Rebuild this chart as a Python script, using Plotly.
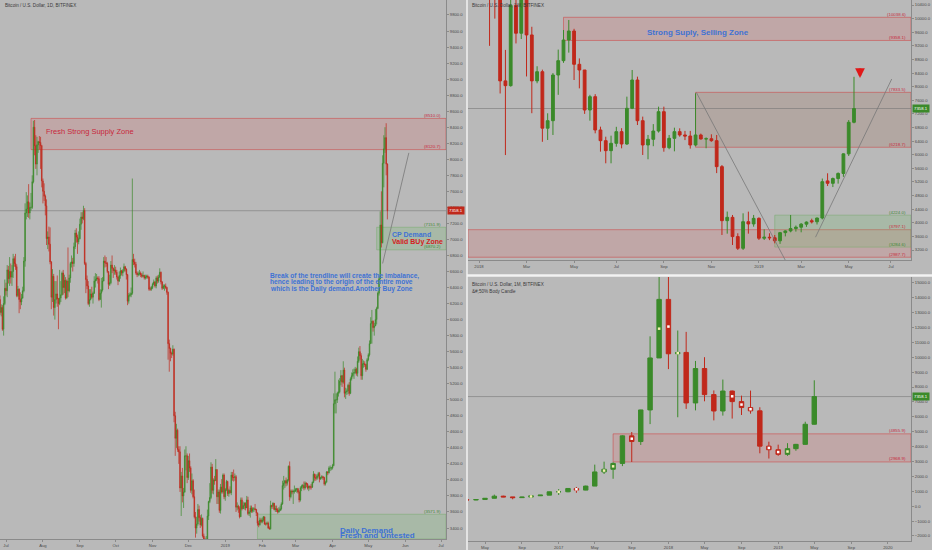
import plotly.graph_objects as go
import pandas as pd

W, H = 932, 550
BG = '#b9b9b9'
GREEN = '#3b8a2a'
RED = '#c0281b'
BLUE = '#3f72d4'
ZRED = '#c8283c'
ZGREEN = '#3f8a34'

def px(x):
    return x / W

def py(y):
    return 1 - y / H

# ---------------- DAILY (left panel) : (high, low, close), open = previous close ----------------
daily_start = '2018-06-26'
daily_open0 = 6250
d_2018_06 = [(6300,6060,6090),(6190,6040,6150),(6180,5860,5880),(6290,5800,6200),(6500,6180,6390)]
d_2018_07 = [(6460,6300,6360),(6680,6280,6620),(6670,6450,6510),(6780,6420,6600),(6700,6450,6530),
             (6680,6420,6600),(6820,6520,6760),(6790,6660,6700),(6820,6620,6660),(6690,6280,6300),
             (6420,6280,6380),(6390,6080,6250),(6340,6130,6220),(6320,6180,6270),(6410,6260,6360),
             (6780,6340,6730),(7450,6660,7330),(7590,7250,7380),(7550,7280,7470),(7690,7270,7330),
             (7460,7250,7400),(7580,7360,7400),(7800,7380,7720),(8480,7700,8400),(8490,8050,8170),
             (8300,7880,7940),(8280,7800,8180),(8230,8080,8220),(8290,8120,8210),(8280,7880,8170),
             (8180,7650,7730)]
d_2018_08 = [(7760,7450,7600),(7700,7480,7540),(7560,7300,7420),(7500,6930,7010),(7100,6880,7030),
             (7160,6850,6940),(7150,6690,6720),(6730,6130,6280),(6630,6220,6540),(6570,6050,6150),
             (6480,6000,6250),(6480,6200,6320),(6550,6160,6260),(6270,5880,6200),(6620,6180,6270),
             (6480,6220,6310),(6600,6300,6580),(6620,6310,6400),(6560,6330,6490),(6530,6250,6270),
             (6500,6260,6480),(6900,6280,6360),(6560,6340,6520),(6720,6460,6700),(6800,6650,6720),
             (6770,6600,6700),(6960,6660,6910),(7120,6880,7080),(7140,6960,7030),(7060,6820,6970),
             (7100,6940,7010)]
d_2018_09 = [(7260,7000,7190),(7340,7120,7280),(7340,7200,7260),(7420,7240,7360),(7390,6680,6700),
             (6720,6330,6500),(6550,6380,6420),(6480,6180,6200),(6380,6160,6250),(6380,6240,6320),
             (6410,6260,6280),(6350,6200,6330),(6540,6320,6480),(6580,6400,6500),(6570,6480,6520),
             (6540,6450,6510),(6540,6230,6250),(6380,6250,6330),(6520,6150,6370),(6530,6350,6480),
             (6780,6480,6730),(6800,6650,6710),(6780,6660,6700),(6720,6580,6600),(6600,6380,6440),
             (6560,6420,6460),(6730,6440,6680),(6800,6580,6640),(6650,6520,6610),(6680,6560,6620)]
d_2018_10 = [(6660,6560,6590),(6620,6500,6530),(6540,6430,6480),(6600,6470,6550),(6650,6510,6610),
             (6620,6550,6580),(6630,6540,6610),(6700,6590,6660),(6670,6600,6630),(6640,6500,6560),
             (6570,6180,6230),(6330,6200,6300),(6340,6280,6310),(6400,6280,6330),(7760,6310,6750),
             (6820,6680,6720),(6760,6650,6690),(6720,6560,6580),(6600,6530,6560),(6600,6540,6570),
             (6620,6550,6580),(6600,6530,6560),(6580,6520,6540),(6600,6530,6550),(6560,6500,6520),
             (6560,6500,6530),(6560,6510,6540),(6560,6510,6530),(6540,6360,6380),(6410,6360,6380),
             (6420,6360,6400)]
d_2018_11 = [(6460,6380,6440),(6500,6430,6470),(6480,6400,6420),(6540,6390,6520),(6550,6450,6480),
             (6560,6460,6530),(6640,6520,6590),(6600,6440,6470),(6480,6370,6390),(6440,6380,6420),
             (6440,6360,6420),(6450,6380,6400),(6410,6310,6340),(6350,5500,5700),(5750,5350,5640),
             (5650,5480,5580),(5600,5520,5570),(5680,5550,5630),(5640,4720,4800),(4850,4300,4520),
             (4700,4400,4620),(4640,4350,4380),(4420,4200,4350),(4420,3850,3900),(4100,3550,4050),
             (4150,3720,3800),(3900,3650,3850),(4380,3840,4300),(4420,4120,4300),(4330,3960,4030)]
d_2018_12 = [(4300,4000,4240),(4330,4100,4150),(4170,3840,3870),(4080,3820,3990),(4010,3770,3790),
             (3880,3520,3540),(3600,3280,3400),(3540,3330,3450),(3700,3430,3630),(3680,3480,3530),
             (3560,3400,3440),(3570,3420,3520),(3530,3280,3300),(3330,3200,3250),(3280,3200,3230),
             (3300,3210,3260),(3630,3250,3550),(3740,3500,3730),(3960,3710,3780),(4220,3760,4160),
             (4200,3830,3870),(4020,3820,4000),(4050,3940,3990),(4260,3990,4130),(4130,3700,3790),
             (3880,3700,3850),(3880,3590,3620),(3950,3580,3910),(4010,3830,3850),(4080,3830,4060),
             (4080,3760,3790)]
d_2019_01 = [(3900,3740,3880),(4000,3860,3980),(3990,3800,3830),(3890,3790,3870),(3920,3830,3840),
             (4100,3810,4060),(4100,3990,4030),(4130,3980,4030),(4080,3990,4040),(4060,3600,3660),
             (3720,3620,3670),(3690,3590,3640),(3670,3520,3540),(3780,3540,3750),(3780,3620,3640),
             (3730,3640,3680),(3720,3630,3710),(3720,3620,3650),(3800,3650,3750),(3790,3560,3580),
             (3620,3550,3600),(3680,3530,3650),(3680,3590,3610),(3660,3590,3640),(3660,3600,3640),
             (3700,3620,3630),(3640,3550,3590),(3590,3430,3460),(3490,3410,3440),(3530,3430,3500),
             (3520,3460,3480)]
d_2019_02 = [(3530,3460,3500),(3550,3480,3540),(3540,3440,3450),(3470,3430,3450),(3480,3440,3460),
             (3480,3390,3400),(3420,3380,3390),(3740,3380,3680),(3690,3640,3670),(3720,3640,3710),
             (3710,3620,3630),(3680,3600,3640),(3680,3600,3630),(3650,3580,3600),(3660,3590,3620),
             (3680,3610,3640),(3720,3620,3700),(3990,3690,3930),(4050,3880,3960),(4000,3900,3990),
             (4030,3920,3960),(4010,3930,4000),(4180,3980,4170),(4230,3740,3790),(3880,3770,3860),
             (3880,3820,3850),(3880,3700,3860),(3930,3830,3860)]
d_2019_03 = [(3900,3850,3880),(3900,3840,3890),(3900,3830,3850),(3870,3720,3750),(3920,3730,3900),
             (3940,3860,3920),(3950,3890,3930),(3980,3870,3900),(3980,3880,3960),(3970,3910,3950),
             (3960,3880,3900),(3930,3860,3920),(3930,3880,3910),(3950,3880,3910),(3980,3900,3970),
             (4110,3960,4070),(4080,3990,4030),(4070,3990,4020),(4070,4000,4050),(4100,4030,4080),
             (4100,3970,4010),(4040,4000,4030),(4060,4010,4040),(4050,4000,4030),(4040,3930,3950),
             (3990,3930,3970),(4110,3970,4100),(4110,4060,4090),(4170,4080,4150),(4180,4110,4150),
             (4160,4120,4150)]
d_2019_04 = [(4200,4130,4180),(5080,4170,4950),(5350,4830,5000),(5080,4830,5000),(5100,4960,5080),
             (5250,5040,5100),(5270,5080,5230),(5370,5180,5300),(5310,5160,5220),(5480,5200,5370),
             (5400,5030,5080),(5150,5010,5100),(5140,5060,5110),(5200,5070,5180),(5220,5050,5080),
             (5280,5070,5260),(5340,5240,5300),(5380,5280,5330),(5390,5260,5340),(5410,5320,5380),
             (5400,5300,5330),(5540,5290,5480),(5650,5460,5600),(5670,5500,5550),(5580,5250,5300),
             (5510,5250,5450),(5490,5400,5450),(5480,5410,5440),(5450,5350,5380),(5520,5370,5500)]
d_2019_05 = [(5580,5480,5560),(5740,5540,5700),(6030,5700,5950),(6120,5700,5980),(5990,5850,5900),
             (5960,5800,5920),(6130,5920,6000),(6160,5940,6140),(6350,6130,6330),(6550,6300,6510),
             (7350,6500,7180),(7600,6900,6960),(8050,6950,7950),(8300,7650,8130),(8400,8080,8270),
             (8450,7800,7940),(7950,7250,7358.1)]

# ---------------- WEEKLY (top right) ----------------
weekly_start = '2017-12-18'
w_open  = [19100,13900,13800,16200,13600,11600,11200,8170,8030,10390,9570,11500,9520,8170,8440,6780,7000,8343,
           8764,9371,9636,8657,8490,7314,7706,6727,6413,6119,6336,6678,6315,7364,8196,7000,6286,6453,6697,7265,
           6207,6482,6678,6580,6550,6286,6580,6462,6470,6413,5650,4062,4160,3594,3250,4032,3966,4130,3546,3575,
           3560,3470,3710,3760,3830,3870,3960,4060,4030,4140,5230,5160,5300,5450,6025,6953]
w_high  = [19200,16500,17200,16300,14000,11900,11800,9080,11100,11800,11700,11700,9760,8600,8500,7217,8400,9090,
           9665,9960,9700,8830,8490,7760,7780,6824,6530,6560,6820,6780,7706,8490,8294,7120,6580,6900,7412,7412,
           6580,6794,6776,6700,6700,7805,6620,6510,6600,6580,5698,4330,4229,3691,4278,4327,4230,4160,3808,3691,
           3640,3730,3780,4229,3920,3990,4040,4120,4150,5300,5454,5330,5480,6040,7019,8290]
w_low   = [11900,12500,12800,12700,9200,10000,7800,5990,8000,9270,9400,8300,7220,8100,6380,6433,6580,7760,
           8700,9000,8196,7950,7200,7000,6629,6090,5748,5748,6236,6188,6290,7340,6873,5992,5866,6250,6650,6089,
           6160,6100,6530,6430,6180,6250,6450,6190,6380,5460,3641,3680,3347,3200,3200,3680,3885,3494,3494,3490,
           3396,3380,3600,3720,3740,3720,3880,3980,3950,4100,5080,5050,5150,5350,5963,6923]
w_close = [13900,13800,16200,13600,11600,11200,8170,8030,10390,9570,11500,9520,8170,8440,6780,7000,8343,8764,
           9371,9636,8657,8490,7314,7706,6727,6413,6119,6336,6678,6315,7364,8196,7000,6286,6453,6697,7265,6207,
           6482,6678,6580,6550,6286,6580,6462,6470,6413,5650,4062,4160,3594,3250,4032,3966,4130,3546,3575,3560,
           3470,3710,3760,3830,3870,3960,4020,4030,4140,5208,5160,5300,5450,6025,6953,7358.1]

# ---------------- MONTHLY (bottom right) ----------------
monthly_start = '2016-03-01'
m_open  = [437,416,448,531,673,624,575,609,701,742,966,968,1190,1080,1350,2300,2480,2870,4720,4340,6460,9950,
           13880,10230,10320,6930,9240,7490,6390,7730,7020,6620,6400,4030,3790,3480,3860,4150,5500]
m_high  = [439,470,550,778,704,626,628,722,751,975,1150,1210,1290,1380,2790,2990,2950,4760,4980,6470,11400,19890,
           17180,11790,11700,9750,10000,7770,8500,7760,7420,7760,6640,4330,4130,4230,4180,5670,8450]
m_low   = [393,404,436,523,607,465,568,603,683,740,752,940,900,1070,1350,2160,1840,2690,2969,4110,5510,10650,
           9200,5970,6530,6430,7040,5760,6080,5880,6120,6210,3550,3200,3380,3380,3720,4130,5480]
m_close = [416,448,531,673,624,575,609,701,742,966,968,1190,1080,1350,2300,2480,2870,4720,4340,6460,9950,13880,
           10230,10320,6930,9240,7490,6390,7730,7020,6620,6400,4030,3790,3480,3860,4150,5500,7358.1]
body50_months = ['2016-10','2017-01','2017-03','2017-06','2017-07','2017-09','2017-12','2018-01','2018-02',
                 '2018-08','2018-09','2018-10','2018-12','2019-01','2019-02']

last_price = 7358.1

# ---------------- zones ----------------
left_supply = (8120.7, 8510.0)
left_cp_demand = (6870.2, 7151.9)
left_daily_demand_top = 3571.9
tr_supply = (9358.1, 10038.6)
tr_mid_zone = (6218.7, 7833.5)
tr_red_zone = (2987.7, 3797.1)
tr_green_zone = (3284.6, 4224.0)
br_zone = (2968.9, 4855.9)

left_xticks = ['2018-07-01','2018-08-01','2018-09-01','2018-10-01','2018-11-01','2018-12-01','2019-01-01',
               '2019-02-01','2019-03-01','2019-04-01','2019-05-01','2019-06-01','2019-07-01']
left_xtext = ['Jul','Aug','Sep','Oct','Nov','Dec','2019','Feb','Mar','Apr','May','Jun','Jul']
tr_xticks = ['2018-01-01','2018-03-05','2018-05-07','2018-07-02','2018-09-03','2018-11-05','2019-01-07',
             '2019-03-04','2019-05-06','2019-07-01']
tr_xtext = ['2018','Mar','May','Jul','Sep','Nov','2019','Mar','May','Jul']
br_xticks = ['2016-05-01','2016-09-01','2017-01-01','2017-05-01','2017-09-01','2018-01-01','2018-05-01',
             '2018-09-01','2019-01-01','2019-05-01','2019-09-01','2020-01-01']
br_xtext = ['May','Sep','2017','May','Sep','2018','May','Sep','2019','May','Sep','2020']

# ---------------- build series ----------------
rows = [r for m in [d_2018_06,d_2018_07,d_2018_08,d_2018_09,d_2018_10,d_2018_11,d_2018_12,
                    d_2019_01,d_2019_02,d_2019_03,d_2019_04,d_2019_05] for r in m]
d_close = [r[2] for r in rows]
d_open = [daily_open0] + d_close[:-1]
d_high = [max(r[0], o, r[2]) for r, o in zip(rows, d_open)]
d_low = [min(r[1], o, r[2]) for r, o in zip(rows, d_open)]
d_dates = pd.date_range(daily_start, periods=len(rows), freq='D')

w_dates = pd.date_range(weekly_start, periods=len(w_close), freq='7D')
m_dates = pd.date_range(monthly_start, periods=len(m_close), freq='MS')

def xrange(anchor, anchor_px, ppd, lpx, rpx):
    a = pd.Timestamp(anchor)
    return [a + pd.Timedelta(days=(lpx - anchor_px) / ppd), a + pd.Timedelta(days=(rpx - anchor_px) / ppd)]

L_XR = xrange('2018-07-01', 6, 1.1918, 0, 446)
TR_XR = xrange('2018-01-01', 479, 0.7545, 468, 911)
BR_XR = xrange('2016-05-01', 485, 0.3007, 468, 911)
L_YR = [3263, 9987]
TR_YR = [2906, 10547]
BR_YR = [-2336, 15383]

fig = go.Figure()

def candle(x, o, h, l, c, xa, ya, lw=1):
    fig.add_trace(go.Candlestick(
        x=x, open=o, high=h, low=l, close=c, xaxis=xa, yaxis=ya,
        increasing=dict(line=dict(color=GREEN, width=lw), fillcolor=GREEN),
        decreasing=dict(line=dict(color=RED, width=lw), fillcolor=RED),
        whiskerwidth=0, showlegend=False, hoverinfo='skip'))

candle(d_dates, d_open, d_high, d_low, d_close, 'x', 'y', lw=0.7)
candle(w_dates, w_open, w_high, w_low, w_close, 'x2', 'y2')
candle(m_dates, m_open, m_high, m_low, m_close, 'x3', 'y3')

# 50% body markers on monthly chart
mk_x, mk_y, mk_c = [], [], []
for d, o, c in zip(m_dates, m_open, m_close):
    if d.strftime('%Y-%m') in body50_months:
        mk_x.append(d); mk_y.append((o + c) / 2)
        mk_c.append('#f4f0b0' if c >= o else '#ffffff')
fig.add_trace(go.Scatter(x=mk_x, y=mk_y, mode='markers', xaxis='x3', yaxis='y3',
                         marker=dict(size=2.5, color=mk_c, symbol='square'),
                         showlegend=False, hoverinfo='skip'))

shapes = []

def zone(xref, yref, x0, x1, yr, fill, line):
    shapes.append(dict(type='rect', xref=xref, yref=yref, x0=x0, x1=x1, y0=yr[0], y1=yr[1],
                       fillcolor=fill, line=dict(color=line, width=1), layer='below'))

PINK = 'rgba(222,95,95,0.20)'
PINKL = 'rgba(205,70,70,0.55)'
GRN = 'rgba(110,185,105,0.22)'
GRNL = 'rgba(110,170,100,0.45)'
BRN = 'rgba(150,95,70,0.20)'

zone('x', 'y', '2018-07-22', L_XR[1], left_supply, PINK, PINKL)
zone('x', 'y', '2019-05-08', L_XR[1], left_cp_demand, GRN, GRNL)
zone('x', 'y', '2019-01-28', L_XR[1], (L_YR[0], left_daily_demand_top), GRN, GRNL)
zone('x2', 'y2', '2018-04-23', TR_XR[1], tr_supply, PINK, PINKL)
zone('x2', 'y2', '2018-10-15', TR_XR[1], tr_mid_zone, BRN, PINKL)
zone('x2', 'y2', TR_XR[0], TR_XR[1], tr_red_zone, PINK, PINKL)
zone('x2', 'y2', '2019-01-28', TR_XR[1], tr_green_zone, GRN, GRNL)
zone('x3', 'y3', '2017-07-01', BR_XR[1], br_zone, PINK, PINKL)

PL = 'rgba(115,115,115,0.55)'
for xr, xa, ya in [(L_XR, 'x', 'y'), (TR_XR, 'x2', 'y2'), (BR_XR, 'x3', 'y3')]:
    shapes.append(dict(type='line', xref=xa, yref=ya, x0=xr[0], x1=xr[1], y0=last_price, y1=last_price,
                       line=dict(color=PL, width=1), layer='below'))

TL = 'rgba(120,120,120,0.8)'
shapes.append(dict(type='line', xref='x', yref='y', x0='2019-05-13', y0=6700, x1='2019-06-04', y1=8080,
                   line=dict(color=TL, width=1)))
shapes.append(dict(type='line', xref='x2', yref='y2', x0='2018-10-16', y0=7833.5, x1='2019-02-18', y1=2606,
                   line=dict(color=TL, width=1)))
shapes.append(dict(type='line', xref='x2', yref='y2', x0='2019-03-23', y0=3576, x1='2019-07-02', y1=8224,
                   line=dict(color=TL, width=1)))

# panel separators
shapes.append(dict(type='line', xref='paper', yref='paper', x0=px(467), x1=px(467), y0=0, y1=1,
                   line=dict(color='#f2f2f2', width=1.5)))
shapes.append(dict(type='line', xref='paper', yref='paper', x0=px(467), x1=1, y0=py(275.5), y1=py(275.5),
                   line=dict(color='#f2f2f2', width=2.5)))

ann = []
TF = 'Liberation Sans'

def txt(x, y, s, color, size, xanchor='left', bold=False, xref='paper', yref='paper'):
    ann.append(dict(x=x, y=y, xref=xref, yref=yref, text=('<b>%s</b>' % s) if bold else s,
                    showarrow=False, xanchor=xanchor, yanchor='middle',
                    font=dict(family=TF, size=size, color=color)))

txt(px(3), py(6), 'Bitcoin / U.S. Dollar, 1D, BITFINEX', '#3a3a3a', 4.6)
txt(px(470), py(6), 'Bitcoin / U.S. Dollar, 1W, BITFINEX', '#3a3a3a', 4.6)
txt(px(470), py(284), 'Bitcoin / U.S. Dollar, 1M, BITFINEX', '#3a3a3a', 4.6)
txt(px(470), py(291), '&#;50% Body Candle', '#3a3a3a', 4.6)

txt(px(44), py(131), 'Fresh Strong Supply Zone', ZRED, 7.5)
txt(px(411), py(234), 'CP Demand', BLUE, 7, 'center', True)
txt(px(417), py(241.5), 'Valid BUy Zone', '#d42020', 7, 'center', True)
txt(px(344), py(275.8), 'Break of the trendline will create the imbalance,', BLUE, 6.6, 'center', True)
txt(px(341), py(282.3), 'hence leading to the origin of the entire move', BLUE, 6.6, 'center', True)
txt(px(341), py(288.8), 'which is the Daily demand.Another Buy Zone', BLUE, 6.6, 'center', True)
txt(px(338), py(530.5), 'Daily Demand', BLUE, 8, 'left', True)
txt(px(338), py(535.5), 'Fresh and Untested', BLUE, 8, 'left', True)
txt(px(698), py(32), 'Strong Suply, Selling Zone', BLUE, 8, 'center', True)

def zlabel(xpix, price, yref, color):
    ann.append(dict(x=px(xpix), y=price, xref='paper', yref=yref, text='(%.1f)' % price, showarrow=False,
                    xanchor='right', yanchor='bottom', yshift=-1.5,
                    font=dict(family=TF, size=4.4, color=color)))

zlabel(443, left_supply[1], 'y', ZRED)
zlabel(443, left_supply[0], 'y', ZRED)
zlabel(443, left_cp_demand[1], 'y', ZGREEN)
zlabel(443, left_cp_demand[0], 'y', ZGREEN)
zlabel(443, left_daily_demand_top, 'y', ZGREEN)
zlabel(908, tr_supply[1], 'y2', ZRED)
zlabel(908, tr_supply[0], 'y2', ZRED)
zlabel(908, tr_mid_zone[1], 'y2', ZRED)
zlabel(908, tr_mid_zone[0], 'y2', ZRED)
zlabel(908, tr_green_zone[1], 'y2', ZGREEN)
zlabel(908, tr_red_zone[1], 'y2', ZRED)
zlabel(908, tr_green_zone[0], 'y2', ZGREEN)
zlabel(908, tr_red_zone[0], 'y2', ZRED)
zlabel(908, br_zone[1], 'y3', ZRED)
zlabel(908, br_zone[0], 'y3', ZRED)

def pricebox(xpix, yref, color):
    ann.append(dict(x=px(xpix), y=last_price, xref='paper', yref=yref, text='%.1f' % last_price,
                    showarrow=False, xanchor='left', yanchor='middle', bgcolor=color, borderpad=1,
                    font=dict(family=TF, size=4.3, color='white')))

pricebox(447, 'y', RED)
pricebox(912, 'y2', GREEN)
pricebox(912, 'y3', GREEN)

# red arrow on weekly chart
ann.append(dict(x='2019-05-21', y=8253, xref='x2', yref='y2', text='', showarrow=True, ax=0, ay=-11,
                arrowhead=2, arrowsize=0.75, arrowwidth=2.6, arrowcolor='#e01818', standoff=0))

AX = dict(showgrid=False, zeroline=False, showline=True, linecolor='#8a8a8a', linewidth=1,
          ticks='outside', ticklen=2, tickcolor='#8a8a8a',
          tickfont=dict(family=TF, size=4.2, color='#4a4a4a'), fixedrange=True)

layout = dict(
    width=W, height=H, margin=dict(l=0, r=0, t=0, b=0, pad=0),
    paper_bgcolor=BG, plot_bgcolor=BG, showlegend=False, boxgap=0.25,
    shapes=shapes, annotations=ann,
    xaxis=dict(AX, domain=[0, px(446)], range=L_XR, anchor='y', type='date',
               tickvals=left_xticks, ticktext=left_xtext, rangeslider=dict(visible=False)),
    yaxis=dict(AX, domain=[py(539), 1], range=L_YR, anchor='x', side='right',
               tickvals=list(range(3400, 9801, 200)), tickformat='.1f'),
    xaxis2=dict(AX, domain=[px(468), px(911)], range=TR_XR, anchor='y2', type='date',
                tickvals=tr_xticks, ticktext=tr_xtext, rangeslider=dict(visible=False)),
    yaxis2=dict(AX, domain=[py(260), 1], range=TR_YR, anchor='x2', side='right',
                tickvals=list(range(3200, 10401, 400)), tickformat='.1f'),
    xaxis3=dict(AX, domain=[px(468), px(911)], range=BR_XR, anchor='y3', type='date',
                tickvals=br_xticks, ticktext=br_xtext, rangeslider=dict(visible=False)),
    yaxis3=dict(AX, domain=[py(541), py(277)], range=BR_YR, anchor='x3', side='right',
                tickvals=list(range(-2000, 15001, 1000)), tickformat='.1f'),
)
fig.update_layout(**layout)
fig.write_html('out.html', config={'displayModeBar': False, 'staticPlot': True},
               post_script="document.body.style.margin='0';document.body.style.padding='0';document.body.style.overflow='hidden';")
